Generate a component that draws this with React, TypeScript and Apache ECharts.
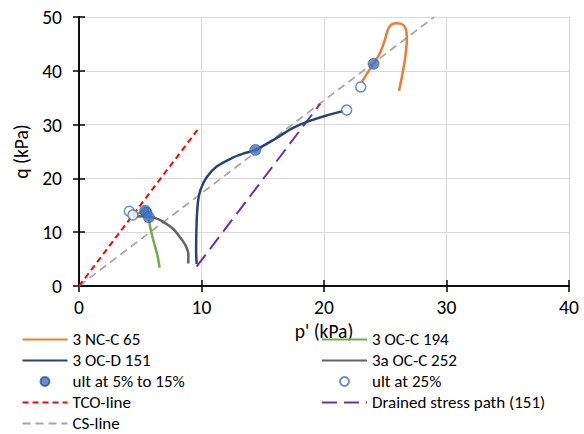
import React, { useEffect, useRef } from "react";
import * as echarts from "echarts";

// ---- data (p', q) in kPa ----
const xTicks = [0, 10, 20, 30, 40];
const yTicks = [0, 10, 20, 30, 40, 50];

const nc65: number[][] = [
  [23.08, 37.9], [23.6, 39.8], [24.05, 41.3], [24.55, 43.2], [24.95, 45.6], [25.17, 47.4],
  [25.45, 48.5], [25.85, 48.85], [26.35, 48.7], [26.68, 47.8], [26.76, 45.8], [26.62, 42.3],
  [26.36, 38.9], [26.12, 36.3],
];
const ocD151: number[][] = [
  [9.6, 4.1], [9.56, 7.0], [9.58, 10.0], [9.63, 13.2], [9.72, 15.8], [9.92, 17.9], [10.42, 20.2],
  [11.24, 22.2], [12.5, 23.8], [13.4, 24.6], [14.4, 25.3], [15.84, 27.1], [17.4, 29.3],
  [18.6, 30.5], [20.2, 31.7], [21.6, 32.5],
];
const ocC194: number[][] = [
  [6.58, 3.4], [6.42, 5.5], [6.2, 7.4], [5.98, 9.3], [5.78, 11.3], [5.7, 12.8], [5.45, 13.4],
  [4.95, 13.5], [4.45, 13.3],
];
const ocC252: number[][] = [
  [8.92, 4.2], [8.93, 5.9], [8.75, 7.3], [8.5, 8.3], [8.1, 9.5], [7.7, 10.6], [7.1, 11.6],
  [6.5, 12.4], [5.8, 12.85], [5.1, 12.95], [4.4, 12.85],
];
const ultFilled: number[][] = [
  [5.4, 14.0], [5.5, 13.6], [5.7, 12.8], [14.4, 25.3], [24.05, 41.3],
];
const ultOpen: number[][] = [
  [4.1, 13.9], [4.4, 13.2], [21.85, 32.7], [23.0, 37.0],
];
const tcoLine: number[][] = [[0, 0], [9.67, 29]];
const drainedPath: number[][] = [[9.6, 3.6], [19.7, 33.9]];
const csLine: number[][] = [[0, 0], [29.0, 50]];

const legendLeft = ["3 NC-C 65", "3 OC-D 151", "ult at 5% to 15%", "TCO-line", "CS-line"];
const legendRight = ["3 OC-C 194", "3a OC-C 252", "ult at 25%", "Drained stress path (151)"];
const scatterNames = ["ult at 5% to 15%", "ult at 25%"];

const FONT = "Carlito, Calibri, 'Liberation Sans', Arial, sans-serif";
const FS = 19.5;
const LEGEND_FS = 17;

export default function App() {
  const ref = useRef<HTMLDivElement>(null);
  useEffect(() => {
    if (!ref.current) return;
    const chart = echarts.init(ref.current, undefined, { renderer: "svg" });
    const axisLineStyle = { color: "#000", width: 1.5 };
    const baseX = {
      type: "value" as const,
      min: xTicks[0],
      max: xTicks[xTicks.length - 1],
      interval: 10,
      position: "bottom" as const,
      gridIndex: 0,
    };
    const baseY = {
      type: "value" as const,
      min: yTicks[0],
      max: yTicks[yTicks.length - 1],
      interval: 10,
      position: "left" as const,
      gridIndex: 0,
    };
    const lineSeries = (name: string, data: number[][], color: string, width: number, type: any, smooth: any, z: number) => ({
      name,
      type: "line" as const,
      data,
      showSymbol: false,
      symbol: "none",
      smooth,
      lineStyle: { color, width, type },
      itemStyle: { color },
      z,
      xAxisIndex: 0,
      yAxisIndex: 0,
    });
    const legendData = (names: string[]) =>
      names.map((n) =>
        scatterNames.includes(n)
          ? { name: n }
          : { name: n, itemStyle: { color: "rgba(0,0,0,0)", borderColor: "rgba(0,0,0,0)", borderWidth: 0, opacity: 0 } }
      );
    const legendBase = {
      orient: "vertical" as const,
      top: 329,
      height: 110,
      padding: 0,
      itemWidth: 45,
      itemHeight: 9,
      itemGap: 0,
      textStyle: { fontSize: LEGEND_FS, color: "#000", lineHeight: 21, fontFamily: FONT },
    };
    chart.setOption({
      animation: false,
      backgroundColor: "#fff",
      textStyle: { fontFamily: FONT },
      grid: { left: 79, right: 15, top: 17, bottom: 148, containLabel: false },
      xAxis: [
        {
          ...baseX,
          name: "p' (kPa)",
          nameLocation: "middle",
          nameGap: 35,
          nameMoveOverlap: false,
          nameTextStyle: { fontSize: FS, color: "#000", fontFamily: FONT },
          axisLine: { show: true, lineStyle: axisLineStyle },
          axisTick: { show: true, inside: false, length: 6, lineStyle: axisLineStyle },
          axisLabel: { fontSize: FS, color: "#000", margin: 11, fontFamily: FONT },
          splitLine: { show: true, lineStyle: { color: "#d9d9d9", width: 1 } },
        },
        {
          ...baseX,
          axisLine: { show: true, lineStyle: axisLineStyle },
          axisTick: { show: true, inside: true, length: 6, lineStyle: axisLineStyle },
          axisLabel: { show: false },
          splitLine: { show: false },
        },
      ],
      yAxis: [
        {
          ...baseY,
          name: "q (kPa)",
          nameLocation: "middle",
          nameGap: 37,
          nameTextStyle: { fontSize: FS, color: "#000", fontFamily: FONT },
          axisLine: { show: true, lineStyle: axisLineStyle },
          axisTick: { show: true, inside: false, length: 6, lineStyle: axisLineStyle },
          axisLabel: { fontSize: FS, color: "#000", margin: 17, fontFamily: FONT },
          splitLine: { show: true, lineStyle: { color: "#d9d9d9", width: 1 } },
        },
        {
          ...baseY,
          axisLine: { show: true, lineStyle: axisLineStyle },
          axisTick: { show: true, inside: true, length: 6, lineStyle: axisLineStyle },
          axisLabel: { show: false },
          splitLine: { show: false },
        },
      ],
      legend: [
        { ...legendBase, left: 21.5, data: legendData(legendLeft) },
        { ...legendBase, left: 321, data: legendData(legendRight) },
      ],
      series: [
        lineSeries("CS-line", csLine, "#a6a6a6", 1.75, [8, 5], false, 1),
        lineSeries("TCO-line", tcoLine, "#ff0000", 2, [6, 4], false, 2),
        lineSeries("Drained stress path (151)", drainedPath, "#7030a0", 2, [15, 7], false, 2),
        lineSeries("3 NC-C 65", nc65, "#ed7d31", 2.5, "solid", 0.25, 3),
        lineSeries("3 OC-C 194", ocC194, "#70ad47", 2.5, "solid", 0.3, 3),
        lineSeries("3 OC-D 151", ocD151, "#264478", 2.5, "solid", 0.3, 3),
        lineSeries("3a OC-C 252", ocC252, "#636363", 2.5, "solid", 0.3, 3),
        {
          name: "ult at 5% to 15%",
          type: "scatter",
          data: ultFilled,
          symbol: "circle",
          symbolSize: 11,
          itemStyle: { color: "#4472c4", borderColor: "#2f5597", borderWidth: 0.75 },
          z: 5,
        },
        {
          name: "ult at 25%",
          type: "scatter",
          data: ultOpen,
          symbol: "circle",
          symbolSize: 10,
          itemStyle: { color: "#ffffff", borderColor: "#4472c4", borderWidth: 1.5 },
          z: 4,
        },
      ],
    });
    return () => chart.dispose();
  }, []);
  return (
    <div
      ref={ref}
      style={{ position: "fixed", left: 0, top: 0, width: 584, height: 434, background: "#fff" }}
    />
  );
}
